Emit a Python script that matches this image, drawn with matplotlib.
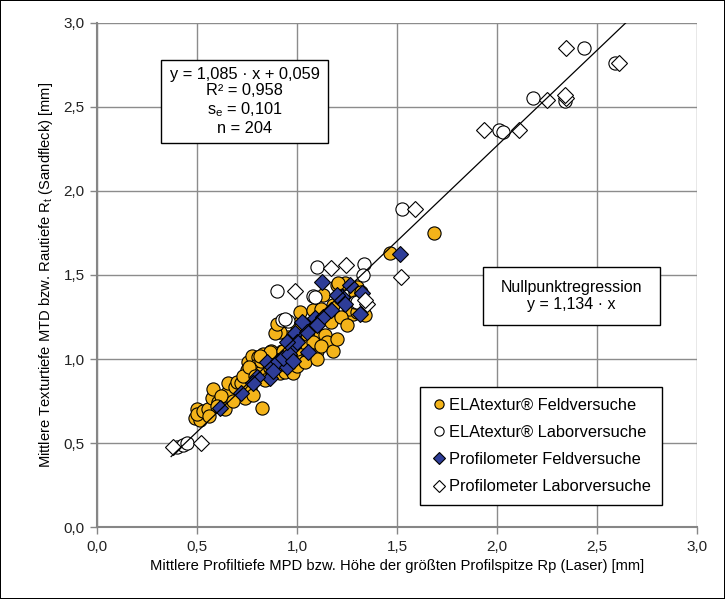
import matplotlib
matplotlib.use("Agg")
import matplotlib.pyplot as plt
from matplotlib.patches import Rectangle
from matplotlib.ticker import FuncFormatter, MultipleLocator

plt.rcParams['font.family'] = ['Liberation Sans', 'DejaVu Sans']
plt.rcParams['mathtext.fontset'] = 'custom'
plt.rcParams['mathtext.rm'] = 'Liberation Sans'
plt.rcParams['mathtext.it'] = 'Liberation Sans'

# ELAtextur Feldversuche (x, y)
ela_feld = [
    (0.49, 0.65), (0.50, 0.70), (0.515, 0.64), (0.50, 0.67), (0.53, 0.69), (0.555, 0.70),
    (0.575, 0.77), (0.58, 0.82), (0.605, 0.745), (0.64, 0.70), (0.65, 0.80), (0.655, 0.86),
    (0.62, 0.78), (0.69, 0.835), (0.70, 0.865), (0.74, 0.77), (0.765, 0.83), (0.775, 0.875),
    (0.78, 0.785), (0.75, 0.935), (0.755, 0.98), (0.775, 1.02), (0.805, 1.01), (0.80, 0.965),
    (0.815, 0.915), (0.84, 0.875), (0.825, 0.71), (0.865, 0.945), (0.88, 1.035), (0.90, 0.975),
    (0.915, 0.915), (0.925, 1.05), (0.95, 1.07), (0.955, 1.13), (0.68, 0.75), (0.60, 0.72),
    (0.56, 0.66), (0.72, 0.86), (0.73, 0.90), (0.76, 0.95), (0.79, 0.90), (0.82, 0.99),
    (0.83, 1.03), (0.86, 1.00), (0.87, 1.05), (0.89, 0.95), (0.94, 0.92), (0.96, 0.98),
    (0.98, 0.915), (0.99, 1.02), (1.00, 0.96), (0.865, 1.04), (0.815, 1.02), (0.93, 1.05),
    (1.00, 1.06), (0.915, 1.16), (0.89, 1.155), (0.965, 1.11), (1.03, 1.10), (1.065, 1.155),
    (1.115, 1.14), (1.14, 1.14), (1.15, 1.10), (1.10, 1.05), (0.90, 1.21), (1.015, 1.22),
    (1.04, 1.21), (1.015, 1.28), (1.08, 1.29), (1.105, 1.25), (1.155, 1.28), (1.18, 1.32),
    (1.13, 1.38), (1.20, 1.44), (1.215, 1.36), (1.23, 1.35), (1.30, 1.43), (1.28, 1.27),
    (1.29, 1.40), (1.24, 1.45), (1.205, 1.45), (1.32, 1.40), (1.33, 1.30), (1.26, 1.30),
    (1.12, 1.30), (1.00, 1.17), (1.05, 1.15), (0.98, 1.13), (1.09, 1.20), (1.17, 1.22),
    (1.22, 1.25), (1.08, 1.10), (1.12, 1.08), (1.06, 1.03), (1.18, 1.05), (1.20, 1.12),
    (1.25, 1.20), (1.04, 0.98), (0.97, 1.00), (0.93, 0.97), (1.10, 1.00), (1.465, 1.63),
    (1.685, 1.75), (1.34, 1.26), (1.30, 1.28),
]

# ELAtextur Laborversuche
ela_labor = [
    (0.40, 0.475), (0.43, 0.49), (0.45, 0.50), (0.90, 1.405), (1.08, 1.375), (1.09, 1.37),
    (0.925, 1.23), (0.955, 1.225), (0.94, 1.24), (1.10, 1.55), (1.335, 1.565), (1.33, 1.50),
    (1.29, 1.34), (1.525, 1.89), (2.01, 2.36), (2.03, 2.35), (2.18, 2.55), (2.34, 2.535),
    (2.435, 2.85), (2.59, 2.76), (1.30, 1.34),
]

# Profilometer Feldversuche
prof_feld = [
    (0.615, 0.71), (0.72, 0.80), (0.85, 0.98), (0.865, 0.885), (0.905, 0.99), (0.95, 0.955),
    (0.99, 1.155), (0.98, 1.07), (1.055, 1.04), (0.93, 1.005), (1.025, 1.22), (1.09, 1.245),
    (1.13, 1.25), (1.125, 1.46), (1.265, 1.44), (1.325, 1.39), (1.315, 1.27), (1.225, 1.37),
    (1.24, 1.33), (1.515, 1.625), (0.96, 1.03), (1.00, 1.10), (1.05, 1.16), (0.88, 0.93),
    (0.80, 0.89), (0.98, 0.99), (1.17, 1.29), (1.20, 1.38), (1.10, 1.20), (0.95, 1.10),
    (0.78, 0.86),
]

# Profilometer Laborversuche
prof_labor = [
    (0.38, 0.475), (0.52, 0.50), (0.99, 1.405), (1.17, 1.54), (1.245, 1.56), (1.35, 1.33),
    (1.52, 1.49), (1.59, 1.89), (1.935, 2.36), (2.11, 2.36), (2.25, 2.54), (2.345, 2.55),
    (2.34, 2.57), (2.345, 2.85), (2.61, 2.76), (1.34, 1.35),
]

slope0 = 1.134
line_x = [0.37, 3.0 / slope0]

orange = '#F4B41A'
blue = '#2E3D98'

fig = plt.figure(figsize=(7.25, 5.99), dpi=100)
fig.patch.set_edgecolor('#000000')
fig.patch.set_linewidth(1.2)
ax = fig.add_axes([0.134, 0.120, 0.827, 0.842])

def xy(pts):
    return [p[0] for p in pts], [p[1] for p in pts]

ms = 9.5
x, y = xy(ela_feld)
ax.plot(x, y, 'o', ms=ms, mfc=orange, mec='black', mew=0.8, ls='none',
        label='ELAtextur® Feldversuche', zorder=3)
x, y = xy(ela_labor)
ax.plot(x, y, 'o', ms=ms, mfc='white', mec='black', mew=0.8, ls='none',
        label='ELAtextur® Laborversuche', zorder=4)
x, y = xy(prof_feld)
ax.plot(x, y, 'D', ms=ms * 0.88, mfc=blue, mec='black', mew=0.8, ls='none',
        label='Profilometer Feldversuche', zorder=5)
x, y = xy(prof_labor)
ax.plot(x, y, 'D', ms=ms * 0.88, mfc='white', mec='black', mew=0.8, ls='none',
        label='Profilometer Laborversuche', zorder=6)

ax.plot(line_x, [v * slope0 for v in line_x], color='black', lw=0.9, zorder=7)

ax.set_xlim(0, 3)
ax.set_ylim(0, 3)
ax.xaxis.set_major_locator(MultipleLocator(0.5))
ax.yaxis.set_major_locator(MultipleLocator(0.5))
fmt = FuncFormatter(lambda v, p: f"{v:.1f}".replace('.', ','))
ax.xaxis.set_major_formatter(fmt)
ax.yaxis.set_major_formatter(fmt)
ax.grid(True, color='#8C8C8C', lw=1.0, zorder=0)
ax.set_axisbelow(True)
for s in ['top', 'right']:
    ax.spines[s].set_visible(False)
for s in ['left', 'bottom']:
    ax.spines[s].set_color('#868686')
    ax.spines[s].set_linewidth(1.5)
ax.tick_params(direction='out', length=5, color='#868686', width=1,
               labelsize=11, labelcolor='#222222', pad=4)

ax.set_xlabel('Mittlere Profiltiefe MPD bzw. Höhe der größten Profilspitze Rp (Laser) [mm]',
              fontsize=10.6, labelpad=4)
ax.set_ylabel('Mittlere Texturtiefe MTD bzw. Rautiefe R$_\\mathrm{t}$ (Sandfleck) [mm]',
              fontsize=10.6, labelpad=6)

# equation box
ax.add_patch(Rectangle((0.32, 2.286), 0.835, 0.494, fc='white', ec='black', lw=1, zorder=8))
ax.text(0.7375, 2.533,
        'y = 1,085 · x + 0,059\nR² = 0,958\ns$_\\mathrm{e}$ = 0,101\nn = 204',
        ha='center', va='center', fontsize=11.8, linespacing=1.15, zorder=9)

# zero-intercept regression box
ax.add_patch(Rectangle((1.93, 1.202), 0.885, 0.346, fc='white', ec='black', lw=1, zorder=8))
ax.text(2.3725, 1.375, 'Nullpunktregression\ny = 1,134 · x',
        ha='center', va='center', fontsize=11.5, linespacing=1.15, zorder=9)

leg = ax.legend(loc='lower right', bbox_to_anchor=(0.942, 0.0437), fontsize=11.8,
                frameon=True, fancybox=False, edgecolor='black', framealpha=1,
                handletextpad=0.15, labelspacing=0.75, borderpad=0.65,
                handlelength=1.0, borderaxespad=0, markerscale=0.7)
leg.get_frame().set_linewidth(1)
leg.set_zorder(10)

fig.savefig('out.png', dpi=100)
